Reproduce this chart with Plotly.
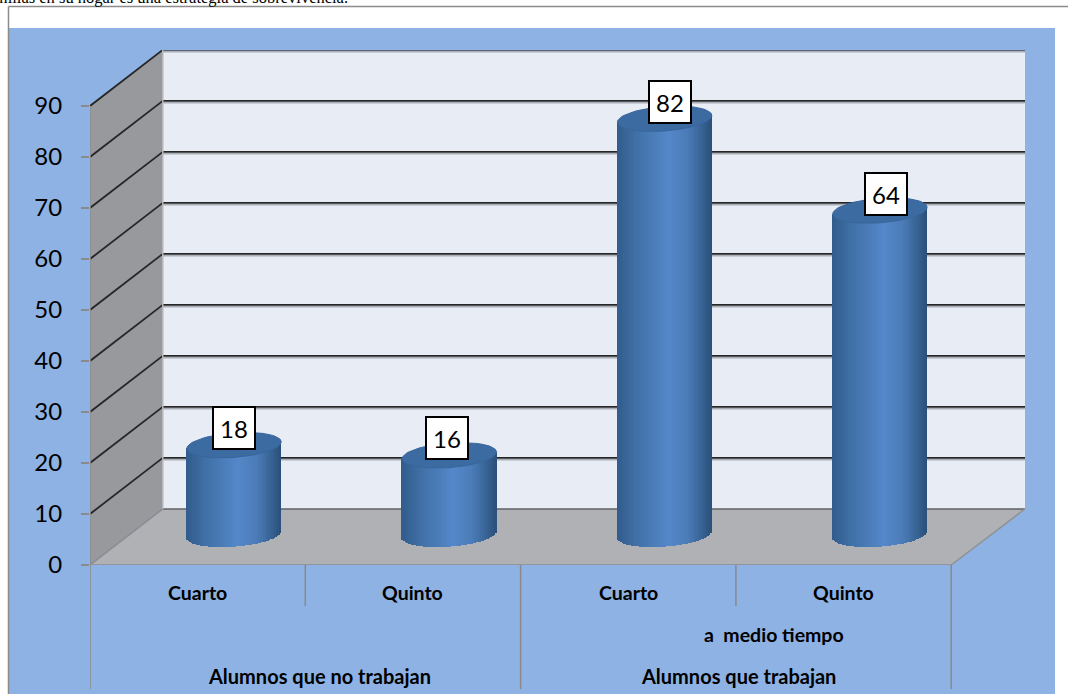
import math
import plotly.graph_objects as go

# ---- data ----
categories = ["Cuarto", "Quinto", "Cuarto", "Quinto"]
values = [18, 16, 82, 64]
value_labels = ["18", "16", "82", "64"]
label_shift_x = [0, -2, 5, 6]
tick_values = [0, 10, 20, 30, 40, 50, 60, 70, 80, 90]
grid_values = [10, 20, 30, 40, 50, 60, 70, 80, 90]
group_labels = ["Alumnos que no trabajan", "Alumnos que trabajan"]
group_centers = [0.568, 2.51]
extra_label = "a  medio tiempo"
extra_center = 2.675
heading = "familias en su hogar es una estrategia de sobrevivencia."

# ---- style / geometry ----
W, H = 1068, 694
BLUE, WHITE = "#8DB2E3", "#FFFFFF"
X_L, X_R, Y_0, Y_T = 90, 1025, 565, 50
PX_CAT, PX_UNIT = 215.3, 5.1
DX, DY = 0.338, 11.0       # 3-D depth in axis units
RX, RY, TILT = 0.219, 2.4, 0.65   # cylinder ellipse radii and tilt
FOOT = 0.5                 # cylinder foot lift above mid floor
N_SLICES = 60
FONT = "Lato"

x0 = -0.5
x1 = x0 + (X_R - X_L) / PX_CAT
y1 = (Y_0 - Y_T) / PX_UNIT
xb = x0 + DX
xf_end = x0 + 4


def py(px):
    return 1 - px / H


def px_x(px):
    return px / W


def lerp(stops, t):
    for (a, ca), (b, cb) in zip(stops, stops[1:]):
        if a <= t <= b:
            f = (t - a) / (b - a)
            return "rgb(%d,%d,%d)" % tuple(ca[i] + (cb[i] - ca[i]) * f for i in range(3))
    return "rgb(%d,%d,%d)" % stops[-1][1]


grad = [(-1.0, (50, 92, 140)), (-0.6, (64, 112, 166)), (0.1, (85, 136, 202)),
        (0.5, (76, 124, 184)), (0.85, (52, 95, 142)), (1.0, (44, 80, 122))]

sx, sy, sb, sw, sc = [], [], [], [], []
for i, v in enumerate(values):
    cx = i + DX / 2
    for k in range(N_SLICES):
        u = -1 + (k + 0.5) * 2 / N_SLICES
        base = DY / 2 + FOOT + TILT * u - RY * math.sqrt(1 - u * u)
        sx.append(cx + u * RX)
        sy.append(v + DY / 2 + TILT * u - base)
        sb.append(base)
        sw.append(2 * RX / N_SLICES * 1.25)
        sc.append(lerp(grad, u))

fig = go.Figure()
fig.add_trace(go.Bar(x=sx, y=sy, base=sb, width=sw,
                     marker=dict(color=sc, line=dict(width=0)),
                     hoverinfo="skip", showlegend=False))

for i, v in enumerate(values):
    ts = [2 * math.pi * k / 72 for k in range(73)]
    fig.add_trace(go.Scatter(
        x=[i + DX / 2 + RX * math.cos(t) for t in ts],
        y=[v + DY / 2 + RY * math.sin(t) + TILT * math.cos(t) for t in ts],
        mode="lines", fill="toself", fillcolor="#3C6BA2",
        line=dict(color="#38659C", width=1), hoverinfo="skip", showlegend=False))

shapes = []


def add_poly(pts, color):
    d = "M " + " L ".join(f"{a},{b}" for a, b in pts) + " Z"
    shapes.append(dict(type="path", path=d, xref="x", yref="y", fillcolor=color,
                       line=dict(width=0), layer="below"))


# page pieces
shapes.append(dict(type="rect", xref="paper", yref="paper", x0=px_x(9), x1=px_x(1055),
                   y0=0, y1=py(28), fillcolor=BLUE, line=dict(width=0), layer="below"))
shapes.append(dict(type="line", xref="paper", yref="paper", x0=px_x(8.5), x1=px_x(8.5),
                   y0=0, y1=py(6.5), line=dict(color="#8C8C8C", width=1.5), layer="below"))
shapes.append(dict(type="line", xref="paper", yref="paper", x0=px_x(8.5), x1=1,
                   y0=py(6.5), y1=py(6.5), line=dict(color="#8C8C8C", width=1.5), layer="below"))

# walls and floor
add_poly([(xb, DY), (x1, DY), (x1, 90 + DY), (xb, 90 + DY)], "#E8ECF5")
add_poly([(x0, 0), (xb, DY), (xb, 90 + DY), (x0, 90)], "#98999C")
add_poly([(x0, 0), (xb, DY), (x1, DY), (xf_end, 0)], "#AFB1B5")

# grid lines
for g in grid_values:
    top = g == 90
    for off, col, w in ((-0.35, "#A9ADB5", 1.5), (0, "#2B3A4A" if top else "#262626", 1.8)):
        shapes.append(dict(type="line", xref="x", yref="y", x0=xb, x1=x1,
                           y0=g + DY + off, y1=g + DY + off,
                           line=dict(color=col, width=w), layer="below"))
    shapes.append(dict(type="line", xref="x", yref="y", x0=x0, x1=xb, y0=g, y1=g + DY,
                       line=dict(color="#262626", width=1.8), layer="below"))

# floor / wall edges
for a, b, c, d, col in ((xb, DY, x1, DY, "#5F6266"), (x0, 0, xb, DY, "#8A8D92"),
                        (xf_end, 0, x1, DY, "#8F9296"), (x0, 0, xf_end, 0, "#8A8D92"),
                        (x0, 0, x0, 90, "#8A8D92"), (xb, DY, xb, 90 + DY, "#B5B7BB")):
    shapes.append(dict(type="line", xref="x", yref="y", x0=a, x1=c, y0=b, y1=d,
                       line=dict(color=col, width=1.5), layer="below"))

# category separators
for c, bottom in ((-0.5, 689), (0.5, 606), (1.5, 689), (2.5, 606), (3.5, 689)):
    shapes.append(dict(type="line", xref="x", yref="paper", x0=c, x1=c, y0=py(bottom), y1=py(Y_0),
                       line=dict(color="#8A8A8A", width=1.5), layer="below"))

anns = []
for i, (v, t, sh) in enumerate(zip(values, value_labels, label_shift_x)):
    anns.append(dict(x=i + DX / 2, y=v + DY / 2, xref="x", yref="y", text=t, showarrow=False,
                     xshift=sh, yshift=17, width=40, height=40, align="center", valign="middle",
                     bgcolor="#FFFFFF", bordercolor="#000000", borderwidth=2, borderpad=0,
                     font=dict(family=FONT, size=24, color="#000000")))
bold = dict(family=FONT, size=19.5, color="#000000")
bold_g = dict(family=FONT, size=20, color="#000000")
for i, c in enumerate(categories):
    anns.append(dict(x=i, y=py(592), xref="x", yref="paper", yanchor="middle",
                     text=f"<b>{c}</b>", showarrow=False, font=bold))
anns.append(dict(x=extra_center, y=py(634), xref="x", yref="paper", yanchor="middle",
                 text=f"<b>{extra_label}</b>", showarrow=False, font=bold))
for c, g in zip(group_centers, group_labels):
    anns.append(dict(x=c, y=py(676), xref="x", yref="paper", yanchor="middle",
                     text=f"<b>{g}</b>", showarrow=False, font=bold_g))
anns.append(dict(x=px_x(350), y=py(-3), xref="paper", yref="paper", xanchor="right", yanchor="middle",
                 text=heading, showarrow=False,
                 font=dict(family="Liberation Serif", size=16.5, color="#000000")))

fig.update_layout(
    width=W, height=H, margin=dict(l=0, r=0, t=0, b=0, autoexpand=False),
    paper_bgcolor=WHITE, plot_bgcolor="rgba(0,0,0,0)",
    barmode="overlay", bargap=0, showlegend=False,
    shapes=shapes, annotations=anns,
    xaxis=dict(domain=[X_L / W, X_R / W], range=[x0, x1], visible=False, fixedrange=True, automargin=False),
    yaxis=dict(domain=[1 - Y_0 / H, 1 - Y_T / H], range=[0, y1], tickvals=tick_values,
               ticks="outside", ticklen=8, tickcolor="#8A8A8A", tickwidth=1.5, automargin=False,
               showgrid=False, zeroline=False, showline=False, ticklabelstandoff=14,
               tickfont=dict(family=FONT, size=24, color="#000000"), fixedrange=True),
)
fig.write_html("out.html", config={"displayModeBar": False},
               post_script="document.body.style.margin='0';document.documentElement.style.overflow='hidden';")
